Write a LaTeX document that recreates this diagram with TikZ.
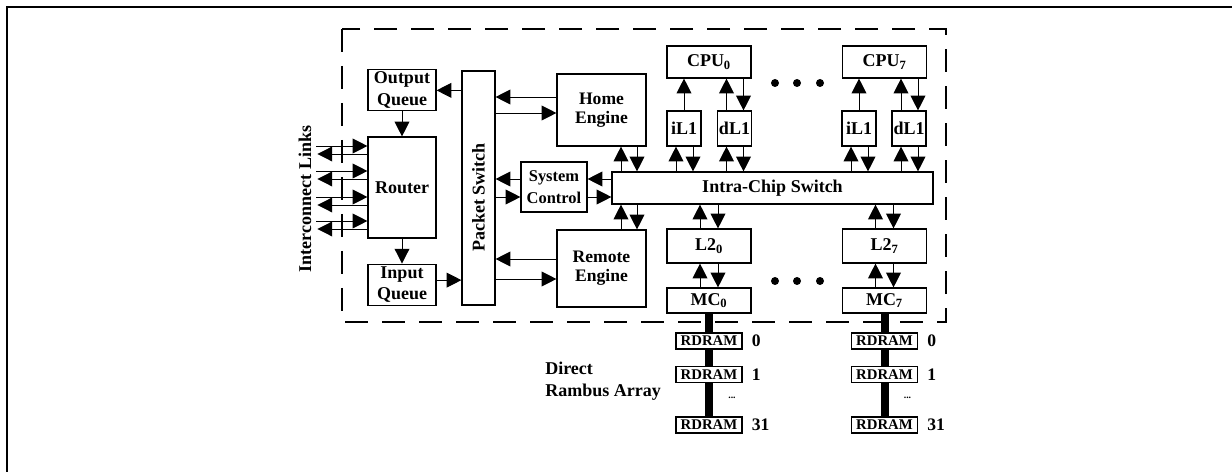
\documentclass[tikz,border=0pt]{standalone}
\usepackage{fontspec}
\setmainfont{Liberation Serif}
\usetikzlibrary{arrows.meta,positioning,calc}
\newdimen\pxu \pxu=0.025cm

\begin{document}
\begin{tikzpicture}[
    x=0.025cm, y=-0.025cm,
    font=\bfseries\fontsize{12.8}{15.5}\selectfont,
    blk/.style={rectangle, draw, line width=0.8pt, inner sep=0pt, align=center},
    engine/.style={blk, minimum width=89\pxu, font=\bfseries\fontsize{12.5}{13.6}\selectfont},
    arr/.style={-{Triangle[length=10.5pt,width=10.5pt]}, line width=0.7pt},
    bus/.style={line width=8\pxu},
    ram/.style={blk, fill=white, minimum width=66\pxu, minimum height=16\pxu, font=\bfseries\fontsize{10.5}{12}\selectfont},
    num/.style={inner sep=0pt, font=\bfseries\fontsize{12.5}{14}\selectfont},
    dot/.style={circle, fill, inner sep=0pt, minimum size=8\pxu}
]
    \useasboundingbox (0,0) rectangle (1232,472);
    \draw[line width=2\pxu] (7,472) -- (7,6.7) -- (1232,6.7);
    \draw[line width=0.9pt, dash pattern=on 23\pxu off 14\pxu] (342,29) rectangle (946,322);

    % Router side
    \node[blk, minimum width=68\pxu, minimum height=101\pxu] (router) at (402,187.5) {Router};
    \node[blk, minimum width=68\pxu, minimum height=41\pxu, above=25\pxu of router] (outq) {Output\\Queue};
    \node[blk, minimum width=68\pxu, minimum height=41\pxu, below=25\pxu of router] (inq) {Input\\Queue};
    \node[rotate=90, inner sep=0pt] (links) at (305,199) {Interconnect Links};

    % Packet switch and engines
    \node[blk, minimum width=33\pxu, minimum height=234\pxu] (pswitch) at (478.5,188) {};
    \node[rotate=90, inner sep=0pt] (pslbl) at (478.5,197.5) {Packet Switch};
    \node[engine, minimum height=72\pxu] (home) at (601.5,110) {Home\\Engine};
    \node[engine, minimum height=77\pxu] (remote) at (601.5,268.5) {Remote\\Engine};
    \node[blk, minimum width=66\pxu, minimum height=50\pxu, font=\bfseries\fontsize{11.7}{15.4}\selectfont] (sysctl) at (554,187) {System\\Control};
    \node[blk, minimum width=321\pxu, minimum height=32\pxu] (ics) at (772.5,188) {Intra-Chip Switch};

    % CPUs and caches
    \node[blk, minimum width=84\pxu, minimum height=32\pxu] (cpu0) at (709,62) {CPU\textsubscript{0}};
    \node[blk, minimum width=84\pxu, minimum height=32\pxu] (cpu7) at (884.5,62) {CPU\textsubscript{7}};
    \node[blk, minimum width=34\pxu, minimum height=35\pxu] (il0) at (684,128.5) {iL1};
    \node[blk, minimum width=34\pxu, minimum height=35\pxu] (dl0) at (734.5,128.5) {dL1};
    \node[blk, minimum width=34\pxu, minimum height=35\pxu] (il7) at (859,128.5) {iL1};
    \node[blk, minimum width=34\pxu, minimum height=35\pxu] (dl7) at (909,128.5) {dL1};
    \node[blk, minimum width=84\pxu, minimum height=34\pxu] (l20) at (709,246) {L2\textsubscript{0}};
    \node[blk, minimum width=84\pxu, minimum height=34\pxu] (l27) at (884.5,246) {L2\textsubscript{7}};
    \node[blk, minimum width=84\pxu, minimum height=25\pxu] (mc0) at (709,300.5) {MC\textsubscript{0}};
    \node[blk, minimum width=84\pxu, minimum height=25\pxu] (mc7) at (884.5,300.5) {MC\textsubscript{7}};
    \foreach \x [count=\i] in {775,797,820} {
        \node[dot] (dta\i) at (\x,83) {};
        \node[dot] (dtb\i) at (\x,281) {};
    }

    % Rambus array
    \foreach \c/\x in {0/709,7/884.5} {
        \node[ram] (ramA\c) at (\x,341) {RDRAM};
        \node[ram] (ramB\c) at (\x,374.5) {RDRAM};
        \node[ram] (ramC\c) at (\x,425) {RDRAM};
        \node[num, right=9\pxu of ramA\c] (numA\c) {0};
        \node[num, right=9\pxu of ramB\c] (numB\c) {1};
        \node[num, right=9\pxu of ramC\c] (numC\c) {31};
        \node[font=\bfseries\fontsize{7}{8}\selectfont] (ell\c) at ($(ramB\c)!0.5!(ramC\c)+(23,-2)$) {...};
        \draw[bus] (mc\c.south) -- (ramA\c.north);
        \draw[bus] (ramA\c.south) -- (ramB\c.north);
        \draw[bus] (ramB\c.south) -- (ramC\c.north);
    }
    \node[anchor=west, align=left, inner sep=0pt, font=\bfseries\fontsize{12.8}{15.6}\selectfont] (dra) at (545,381) {Direct\\Rambus Array};

    % Router connections
    \draw[arr] (pswitch.west |- outq.east) -- (outq.east);
    \draw[arr] (outq.south) -- (router.north);
    \draw[arr] (router.south) -- (inq.north);
    \draw[arr] ([yshift=4.5\pxu]inq.east) -- ([yshift=4.5\pxu]inq.east -| pswitch.west);
    \foreach \r/\l [count=\i] in {41.5/33.5,16.5/8.5,-9.5/-17.5,-33.5/-41.5} {
        \coordinate (lin\i) at ([xshift=-51\pxu,yshift=\r\pxu]router.west);
        \coordinate (lout\i) at ([xshift=-50\pxu,yshift=\l\pxu]router.west);
        \draw[arr] (lin\i) -- (lin\i -| router.west);
        \draw[arr] (router.west |- lout\i) -- (lout\i);
    }

    % Packet switch connections
    \draw[arr] ([yshift=13\pxu]home.west) -- ([yshift=13\pxu]home.west -| pswitch.east);
    \draw[arr] ([yshift=-3\pxu]home.west -| pswitch.east) -- ([yshift=-3\pxu]home.west);
    \draw[arr] ([yshift=8\pxu]sysctl.west) -- ([yshift=8\pxu]sysctl.west -| pswitch.east);
    \draw[arr] ([yshift=-10\pxu]sysctl.west -| pswitch.east) -- ([yshift=-10\pxu]sysctl.west);
    \draw[arr] ([yshift=9.5\pxu]remote.west) -- ([yshift=9.5\pxu]remote.west -| pswitch.east);
    \draw[arr] ([yshift=-10.5\pxu]remote.west -| pswitch.east) -- ([yshift=-10.5\pxu]remote.west);
    \draw[arr] ([yshift=9\pxu]ics.west) -- ([yshift=9\pxu]ics.west -| sysctl.east);
    \draw[arr] ([yshift=-9\pxu]ics.west -| sysctl.east) -- ([yshift=-9\pxu]ics.west);

    % Intra-chip switch connections
    \draw[arr] ([xshift=19.5\pxu]home.south |- ics.north) -- ([xshift=19.5\pxu]home.south);
    \draw[arr] ([xshift=35.5\pxu]home.south) -- ([xshift=35.5\pxu]home.south |- ics.north);
    \draw[arr] ([xshift=19.5\pxu]remote.north) -- ([xshift=19.5\pxu]remote.north |- ics.south);
    \draw[arr] ([xshift=35.5\pxu]remote.north |- ics.south) -- ([xshift=35.5\pxu]remote.north);
    \foreach \n in {il0,dl0,il7,dl7} {
        \draw[arr] ([xshift=-8\pxu]\n.south |- ics.north) -- ([xshift=-8\pxu]\n.south);
        \draw[arr] ([xshift=9\pxu]\n.south) -- ([xshift=9\pxu]\n.south |- ics.north);
    }
    \foreach \c in {0,7} {
        \draw[arr] (il\c.north) -- (il\c.north |- cpu\c.south);
        \draw[arr] ([xshift=-8\pxu]dl\c.north) -- ([xshift=-8\pxu]dl\c.north |- cpu\c.south);
        \draw[arr] ([xshift=9\pxu]dl\c.north |- cpu\c.south) -- ([xshift=9\pxu]dl\c.north);
        \draw[arr] ([xshift=-9\pxu]l2\c.north) -- ([xshift=-9\pxu]l2\c.north |- ics.south);
        \draw[arr] ([xshift=9\pxu]l2\c.north |- ics.south) -- ([xshift=9\pxu]l2\c.north);
        \draw[arr] ([xshift=-9\pxu]mc\c.north) -- ([xshift=-9\pxu]l2\c.south);
        \draw[arr] ([xshift=9\pxu]l2\c.south) -- ([xshift=9\pxu]mc\c.north);
    }
\end{tikzpicture}
\end{document}
